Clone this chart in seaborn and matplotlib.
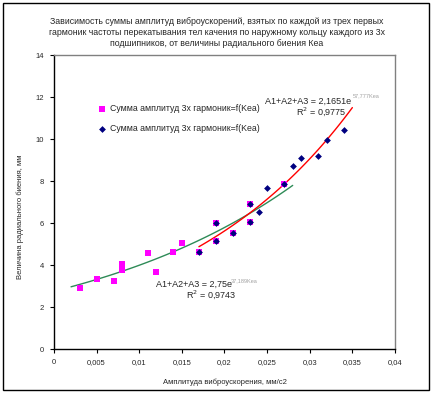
import numpy as np
import pandas as pd
import matplotlib
matplotlib.use("Agg")
import matplotlib.pyplot as plt
import seaborn as sns
from matplotlib.patches import Rectangle
from matplotlib.ticker import FuncFormatter

# series 1 (pink squares) and series 2 (navy diamonds)
kea_1 = [0.003, 0.005, 0.007, 0.008, 0.008, 0.011, 0.012, 0.014, 0.015,
         0.017, 0.019, 0.019, 0.021, 0.023, 0.023, 0.027]
amp_1 = [2.92, 3.35, 3.24, 4.06, 3.76, 4.59, 3.68, 4.62, 5.03,
         4.60, 6.00, 5.16, 5.54, 6.90, 6.03, 7.87]
kea_2 = [0.017, 0.019, 0.019, 0.021, 0.023, 0.023, 0.024, 0.025, 0.027,
         0.028, 0.029, 0.031, 0.032, 0.034]
amp_2 = [4.60, 6.00, 5.16, 5.54, 6.90, 6.03, 6.51, 7.67, 7.87,
         8.71, 9.08, 9.19, 9.95, 10.44]

# exponential trendlines  y = a * exp(b * x)
green_a, green_b, green_range = 2.75, 37.189, (0.002, 0.028)
red_a, red_b, red_range = 2.1651, 47.7, (0.017, 0.035)

title = ("Зависимость суммы амплитуд виброускорений, взятых по каждой из трех первых\n"
         "гармоник частоты перекатывания тел качения по наружному кольцу каждого из 3х\n"
         "подшипников, от величины радиального биения Кеа")
legend_label = "Сумма амплитуд 3х гармоник=f(Kea)"

sns.set_theme(style="white")
plt.rcParams["font.family"] = ["Liberation Sans", "DejaVu Sans"]

fig = plt.figure(figsize=(4.34, 3.94), dpi=100)
ax = fig.add_axes([0.1244, 0.1142, 0.7857, 0.7462])

fig.patches.append(Rectangle((3 / 434, 4 / 394), 426 / 434, 387 / 394,
                             transform=fig.transFigure, fill=False,
                             edgecolor="black", linewidth=1.0))

def trend(a, b, rng):
    x = np.linspace(rng[0], rng[1], 80)
    return pd.DataFrame({"x": x, "y": a * np.exp(b * x)})

sns.lineplot(data=trend(green_a, green_b, green_range), x="x", y="y",
             color="#2E8B57", linewidth=1.0, ax=ax, zorder=2)
sns.lineplot(data=trend(red_a, red_b, red_range), x="x", y="y",
             color="#FF0000", linewidth=1.0, ax=ax, zorder=2)

sns.scatterplot(x=kea_1, y=amp_1, marker="s", color="#FF00FF", s=16,
                linewidth=0, ax=ax, zorder=3, label=legend_label)
sns.scatterplot(x=kea_2, y=amp_2, marker="D", color="#000080", s=12,
                linewidth=0, ax=ax, zorder=4, label=legend_label)

ax.set_xlim(0, 0.04)
ax.set_ylim(0, 14)
ax.set_xticks(np.arange(0, 0.0401, 0.005))
ax.set_yticks(np.arange(0, 15, 2))

def comma(v, pos):
    s = f"{v:.3f}".rstrip("0").rstrip(".")
    return s.replace(".", ",")

ax.xaxis.set_major_formatter(FuncFormatter(comma))
ax.tick_params(axis="both", labelsize=5.5, length=3, width=0.8,
               direction="out", color="black", pad=4)
ax.xaxis.set_ticks_position("bottom")
ax.yaxis.set_ticks_position("left")

for side in ("left", "bottom"):
    ax.spines[side].set_color("black")
    ax.spines[side].set_linewidth(1.0)
for side in ("top", "right"):
    ax.spines[side].set_color("#808080")
    ax.spines[side].set_linewidth(1.0)

ax.set_xlabel("Амплитуда виброускорения, мм/с2", fontsize=5.5, va="center")
ax.set_ylabel("Величина радиального биения, мм", fontsize=5.5, va="center")
ax.xaxis.set_label_coords(0.5, -0.112)
ax.yaxis.set_label_coords(-0.10, 0.45)

fig.text(0.5, 0.958, title, ha="center", va="top", fontsize=6.3,
         linespacing=1.35)

ax.legend(loc="upper left", bbox_to_anchor=(0.105, 0.86), frameon=False,
          fontsize=6.3, handletextpad=0.4, labelspacing=1.3,
          markerscale=1.0, handlelength=1.0)

ax.text(0.0248, 11.8, "A1+A2+A3 = 2,1651e", fontsize=6.5, va="center")
ax.text(0.0350, 12.05, "57,777Kea", fontsize=4, color="#A0A0A0", va="center")
ax.text(0.0284, 11.3, "R$^2$ = 0,9775", fontsize=6.5, va="center")

ax.text(0.0120, 3.07, "A1+A2+A3 = 2,75e", fontsize=6.5, va="center")
ax.text(0.0207, 3.27, "37,189Kea", fontsize=4, color="#A0A0A0", va="center")
ax.text(0.0155, 2.57, "R$^2$ = 0,9743", fontsize=6.5, va="center")

fig.savefig("out.png", dpi=100)
